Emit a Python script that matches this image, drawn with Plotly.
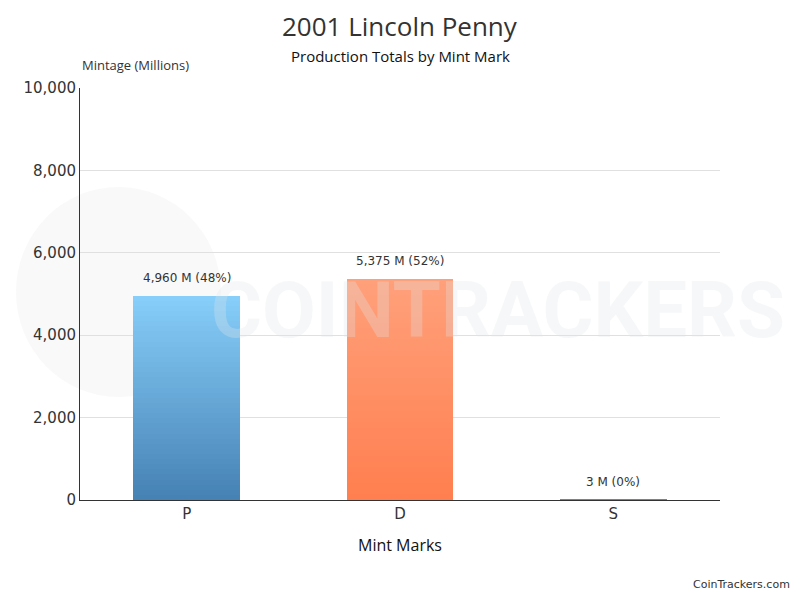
import plotly.graph_objects as go

# data
mint_marks = ['P', 'D', 'S']
mintage = [4960, 5375, 3]          # millions
shares = ['48%', '52%', '0%']
top_colors = ['#87CEFA', '#FFA07A', '#5F8FA8']
bottom_colors = ['#4682B4', '#FF7F50', '#3F6F88']

N_STEPS = 40
TEXT = '#333'
NARROW = 'Open Sans'


def hex_to_rgb(h):
    h = h.lstrip('#')
    return tuple(int(h[i:i + 2], 16) for i in (0, 2, 4))


def blend(c1, c2, t):
    a, b = hex_to_rgb(c1), hex_to_rgb(c2)
    return 'rgb(%d,%d,%d)' % tuple(round(a[i] + (b[i] - a[i]) * t) for i in range(3))


fig = go.Figure()

# stacked slices fake the vertical gradient of each bar
for k in range(N_STEPS):
    t = k / (N_STEPS - 1)
    fig.add_trace(go.Bar(
        x=mint_marks,
        y=[v / N_STEPS for v in mintage],
        width=0.5,
        marker=dict(color=[blend(b, tc, t) for b, tc in zip(bottom_colors, top_colors)],
                    line=dict(width=0)),
        hoverinfo='skip',
        showlegend=False,
    ))

annotations = [
    # faint watermark
    dict(text='<b>COINTRACKERS</b>', xref='paper', yref='paper', x=1.105, y=0.46,
         xanchor='right', yanchor='middle', showarrow=False,
         font=dict(family='Roboto', size=78, color='rgba(225,229,233,0.3)')),
    dict(text='2001 Lincoln Penny', xref='paper', yref='paper', x=0.5, y=1.15,
         xanchor='center', yanchor='middle', showarrow=False,
         font=dict(family=NARROW, size=26, color=TEXT)),
    dict(text='Production Totals by Mint Mark', xref='paper', yref='paper', x=0.5, y=1.077,
         xanchor='center', yanchor='middle', showarrow=False,
         font=dict(family=NARROW, size=15, color='#111')),
    dict(text='Mintage (Millions)', xref='paper', yref='paper', x=0, y=1.03,
         xanchor='left', yanchor='bottom', showarrow=False,
         font=dict(family=NARROW, size=13, color=TEXT)),
    dict(text='CoinTrackers.com', xref='paper', yref='paper', x=1.1125, y=-0.226,
         xanchor='right', yanchor='bottom', showarrow=False,
         font=dict(family='DejaVu Sans', size=11, color=TEXT)),
]

for m, v, s in zip(mint_marks, mintage, shares):
    annotations.append(dict(
        text='{:,} M ({})'.format(v, s), x=m, y=v, xref='x', yref='y',
        xanchor='center', yanchor='bottom', yshift=9, showarrow=False,
        font=dict(family='DejaVu Sans', size=12, color=TEXT),
    ))

# the page body adds an 8px margin, so the figure is drawn 8px smaller
fig.update_layout(
    width=792, height=592,
    barmode='stack', bargap=0.5,
    paper_bgcolor='white', plot_bgcolor='white',
    margin=dict(l=72, r=80, t=80, b=100, autoexpand=False),
    xaxis=dict(
        showline=True, linecolor='#333', linewidth=1,
        tickfont=dict(family='DejaVu Sans', size=15, color=TEXT),
        title=dict(text='Mint Marks', font=dict(family=NARROW, size=16, color='#111'),
                   standoff=17),
        ticks='',
    ),
    yaxis=dict(
        range=[0, 10000], tickvals=[0, 2000, 4000, 6000, 8000, 10000],
        tickformat=',d',
        showline=True, linecolor='#333', linewidth=1,
        showgrid=True, gridcolor='#e0e0e0', zeroline=False,
        tickfont=dict(family='DejaVu Sans', size=15, color=TEXT),
        ticks='',
    ),
    annotations=annotations,
    shapes=[
        dict(type='circle', xref='paper', yref='paper', layer='below',
             x0=-0.1, x1=0.22, y0=0.25, y1=0.76,
             fillcolor='rgba(235,235,235,0.3)', line=dict(width=0)),
    ],
)

fig.write_html('out.html')
